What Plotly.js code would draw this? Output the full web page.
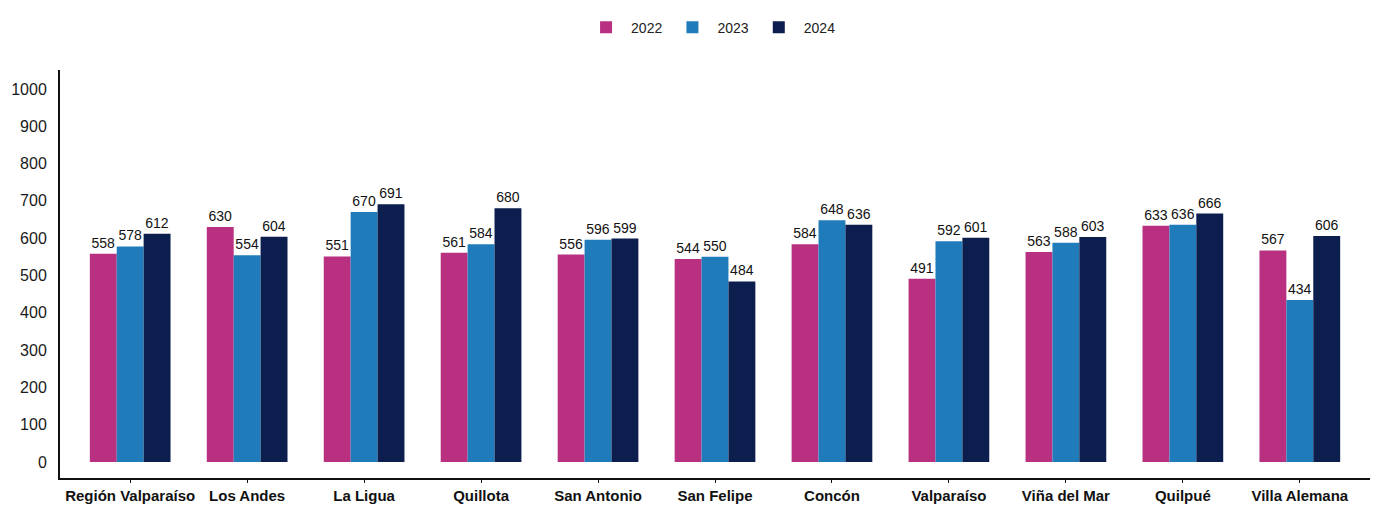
<!DOCTYPE html>
<html>
<head>
<meta charset="utf-8">
<script src="https://cdn.plot.ly/plotly-3.0.1.min.js"></script>
<style>html,body{margin:0;padding:0;background:#fff;}#chart{width:1387px;height:506px;}</style>
</head>
<body>
<div id="chart"></div>
<script>
var categories = ["Región Valparaíso", "Los Andes", "La Ligua", "Quillota", "San Antonio", "San Felipe", "Concón", "Valparaíso", "Viña del Mar", "Quilpué", "Villa Alemana"];
var seriesNames = ["2022", "2023", "2024"];
var values2022 = [558, 630, 551, 561, 556, 544, 584, 491, 563, 633, 567];
var values2023 = [578, 554, 670, 584, 596, 550, 648, 592, 588, 636, 434];
var values2024 = [612, 604, 691, 680, 599, 484, 636, 601, 603, 666, 606];
var yTicks = [0, 100, 200, 300, 400, 500, 600, 700, 800, 900, 1000];

var colors = ["#B8307F", "#1F7BBA", "#0B1E4E"];
var allValues = [values2022, values2023, values2024];
var FONT = "Liberation Sans, Arial, sans-serif";

var traces = allValues.map(function (vals, i) {
  return {
    type: "bar",
    name: seriesNames[i],
    x: categories,
    y: vals,
    text: vals.map(String),
    textposition: "outside",
    cliponaxis: false,
    textfont: {family: FONT, size: 14, color: "#111"},
    marker: {color: colors[i]},
    hoverinfo: "x+y+name"
  };
});

var layout = {
  width: 1387,
  height: 506,
  margin: {l: 60, r: 17, t: 68, b: 28},
  paper_bgcolor: "#fff",
  plot_bgcolor: "#fff",
  barmode: "group",
  bargap: 0.31,
  bargroupgap: 0,
  font: {family: FONT, color: "#111"},
  showlegend: true,
  legend: {
    orientation: "h",
    x: 0.497, xanchor: "center",
    y: 1.104, yanchor: "middle",
    font: {size: 14, color: "#222"},
    itemwidth: 40,
    traceorder: "normal"
  },
  xaxis: {
    type: "category",
    range: [-0.6, 10.6],
    showline: true,
    linecolor: "#111",
    linewidth: 2,
    ticks: "outside",
    ticklen: 3,
    tickcolor: "#111",
    showgrid: false,
    tickfont: {size: 15, color: "#111", weight: "bold"},
    fixedrange: true
  },
  yaxis: {
    range: [-42.7, 1050.7],
    tickvals: yTicks,
    ticktext: yTicks.map(String),
    showline: true,
    linecolor: "#111",
    linewidth: 2,
    ticks: "",
    showgrid: false,
    zeroline: false,
    tickfont: {size: 16, color: "#1a1a1a"},
    ticklabelstandoff: 8,
    fixedrange: true
  }
};

Plotly.newPlot("chart", traces, layout, {displayModeBar: false, staticPlot: true});
</script>
</body>
</html>
